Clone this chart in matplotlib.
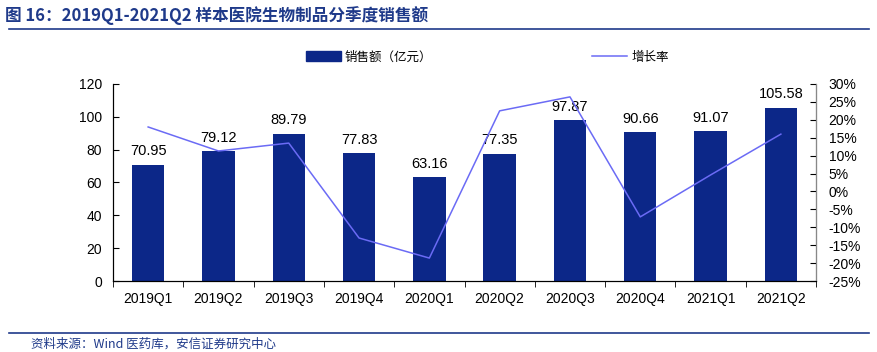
import numpy as np
import matplotlib.pyplot as plt
from matplotlib.lines import Line2D
from matplotlib.patches import Patch
from matplotlib.ticker import FuncFormatter

plt.rcParams['font.family'] = ['Noto Sans CJK SC', 'DejaVu Sans']

quarters = ['2019Q1', '2019Q2', '2019Q3', '2019Q4', '2020Q1',
            '2020Q2', '2020Q3', '2020Q4', '2021Q1', '2021Q2']
sales = [70.95, 79.12, 89.79, 77.83, 63.16, 77.35, 97.87, 90.66, 91.07, 105.58]
growth = [18.0, 11.3, 13.5, -13.0, -18.6, 22.5, 26.4, -7.1, 4.6, 16.0]

bar_color = '#0C2788'
line_color = '#6B6BF5'
title_color = '#1F3A8A'

fig = plt.figure(figsize=(8.78, 3.52), dpi=100)
ax = fig.add_axes([0.1287, 0.2017, 0.8007, 0.5597])
x = np.arange(len(quarters))

ax.bar(x, sales, width=0.46, color=bar_color, zorder=2)
for xi, v in zip(x, sales):
    ax.text(xi, v + 4, f'{v:.2f}', ha='center', va='bottom', fontsize=10.5,
            family=['Liberation Sans', 'DejaVu Sans'])

ax.set_ylim(0, 120)
ax.set_xlim(-0.5, len(quarters) - 0.5)
ax.set_yticks(range(0, 121, 20))
ax.set_xticks(x)
ax.set_xticklabels(quarters)
ax.set_xticks(np.arange(-0.5, len(quarters), 1), minor=True)
ax.tick_params(axis='x', which='major', length=0, pad=8)
ax.tick_params(axis='x', which='minor', length=4, direction='out')
ax.tick_params(axis='y', direction='in', length=4, pad=8)
for lab in ax.get_xticklabels() + ax.get_yticklabels():
    lab.set_family(['Liberation Sans', 'DejaVu Sans'])
    lab.set_fontsize(10)
ax.spines['top'].set_visible(False)

ax2 = ax.twinx()
ax2.plot(x, growth, color=line_color, linewidth=1.1, zorder=3)
ax2.set_ylim(-25, 30)
ax2.set_yticks(range(-25, 31, 5))
ax2.yaxis.set_major_formatter(FuncFormatter(lambda v, p: f'{int(v)}%'))
ax2.tick_params(axis='y', direction='in', length=4, pad=9, colors='black')
ax2.spines['right'].set_color('#888888')
ax2.spines['top'].set_visible(False)
for lab in ax2.get_yticklabels():
    lab.set_family(['Liberation Sans', 'DejaVu Sans'])
    lab.set_fontsize(10)

handles = [Patch(color=bar_color), Line2D([0], [0], color=line_color, linewidth=1.1)]
fig.legend(handles, ['销售额（亿元）', '增长率'], loc='center',
           bbox_to_anchor=(0.555, 0.838), ncol=2, frameon=False, fontsize=9,
           columnspacing=12.8, handlelength=2.8, handleheight=0.9, handletextpad=0.3)

fig.text(0.006, 0.955, '图 16：2019Q1-2021Q2 样本医院生物制品分季度销售额',
         fontsize=12, fontweight='bold', color=title_color, va='center')
fig.add_artist(Line2D([0.01, 0.99], [0.918, 0.918], color=title_color, linewidth=1.2))
fig.add_artist(Line2D([0.01, 0.99], [0.054, 0.054], color=title_color, linewidth=1.2))
fig.text(0.035, 0.022, '资料来源：Wind 医药库，安信证券研究中心', fontsize=9,
         style='italic', color=title_color, va='center')

fig.savefig('out.png', dpi=100)
